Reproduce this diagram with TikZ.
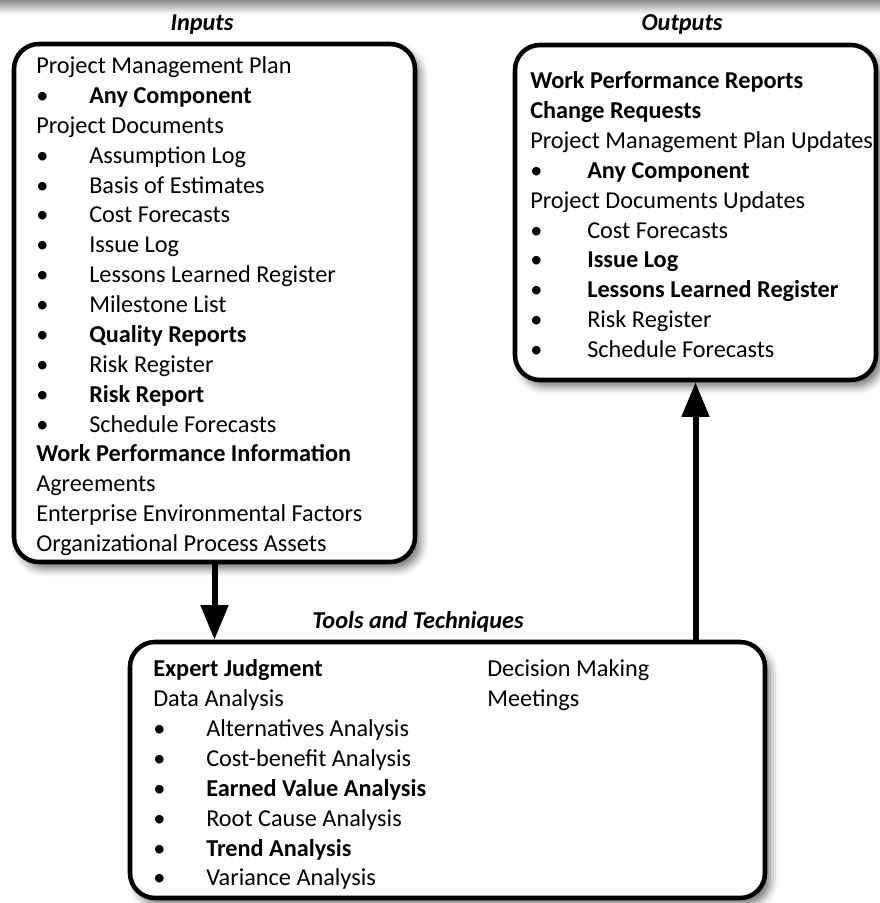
\documentclass[tikz,border=0pt]{standalone}
\usepackage{fontspec}
\setmainfont{Carlito}
\usetikzlibrary{arrows.meta,shadows.blur}
\newcommand{\itm}[2][39.75pt]{\makebox[#1][l]{\textbullet}#2}

\begin{document}
\begin{tikzpicture}[x=0.75pt,y=-0.75pt,
	box/.style={draw=black,line width=3.4pt,rounded corners=18.75pt,fill=white,
		blur shadow={shadow xshift=4pt,shadow yshift=-5pt,shadow blur radius=6pt,shadow opacity=55}},
	txt/.style={anchor=north west,align=left,inner sep=0pt,font=\fontsize{18.2pt}{22.4pt}\selectfont},
	ttl/.style={anchor=base,inner sep=0pt,font=\fontsize{18.2pt}{22.4pt}\selectfont\bfseries\itshape},
	flow/.style={line width=4.5pt,-{Triangle[width=20pt,length=26pt]}}]
	\useasboundingbox (0,0) rectangle (880,903);
	\shade [top color=black!45,bottom color=white] (0,0) rectangle (880,14);
	\node [box,minimum width=300.75pt,minimum height=388.5pt] (inputs) at (214.5,303) {};
	\node [box,minimum width=270.75pt,minimum height=251.25pt] (outputs) at (695.5,212.5) {};
	\node [box,minimum width=476.25pt,minimum height=192pt] (tools) at (447.5,770) {};
	\node [ttl] (inputs-title) at (202,30) {Inputs};
	\node [ttl] (outputs-title) at (682,30) {Outputs};
	\node [ttl] (tools-title) at (418,628) {Tools and Techniques};
	\node [txt] (inputs-list) at (36,56.5) {Project Management Plan\\
		\itm{\textbf{Any Component}}\\
		Project Documents\\
		\itm{Assumption Log}\\
		\itm{Basis of Estimates}\\
		\itm{Cost Forecasts}\\
		\itm{Issue Log}\\
		\itm{Lessons Learned Register}\\
		\itm{Milestone List}\\
		\itm{\textbf{Quality Reports}}\\
		\itm{Risk Register}\\
		\itm{\textbf{Risk Report}}\\
		\itm{Schedule Forecasts}\\
		\textbf{Work Performance Information}\\
		Agreements\\
		Enterprise Environmental Factors\\
		Organizational Process Assets};
	\node [txt] (outputs-list) at (530,71.5) {\textbf{Work Performance Reports}\\
		\textbf{Change Requests}\\
		Project Management Plan Updates\\
		\itm[42.75pt]{\textbf{Any Component}}\\
		Project Documents Updates\\
		\itm[42.75pt]{Cost Forecasts}\\
		\itm[42.75pt]{\textbf{Issue Log}}\\
		\itm[42.75pt]{\textbf{Lessons Learned Register}}\\
		\itm[42.75pt]{Risk Register}\\
		\itm[42.75pt]{Schedule Forecasts}};
	\node [txt] (tools-list) at (153,659.5) {\textbf{Expert Judgment}\\
		Data Analysis\\
		\itm{Alternatives Analysis}\\
		\itm{Cost-benefit Analysis}\\
		\itm{\textbf{Earned Value Analysis}}\\
		\itm{Root Cause Analysis}\\
		\itm{\textbf{Trend Analysis}}\\
		\itm{Variance Analysis}};
	\node [txt] (tools-more) at (487,659.5) {Decision Making\\
		Meetings};
	\draw [flow] (inputs.south) -- (inputs.south |- tools.north);
	\draw [flow] (outputs.south |- tools.north) -- (outputs.south);
\end{tikzpicture}
\end{document}
